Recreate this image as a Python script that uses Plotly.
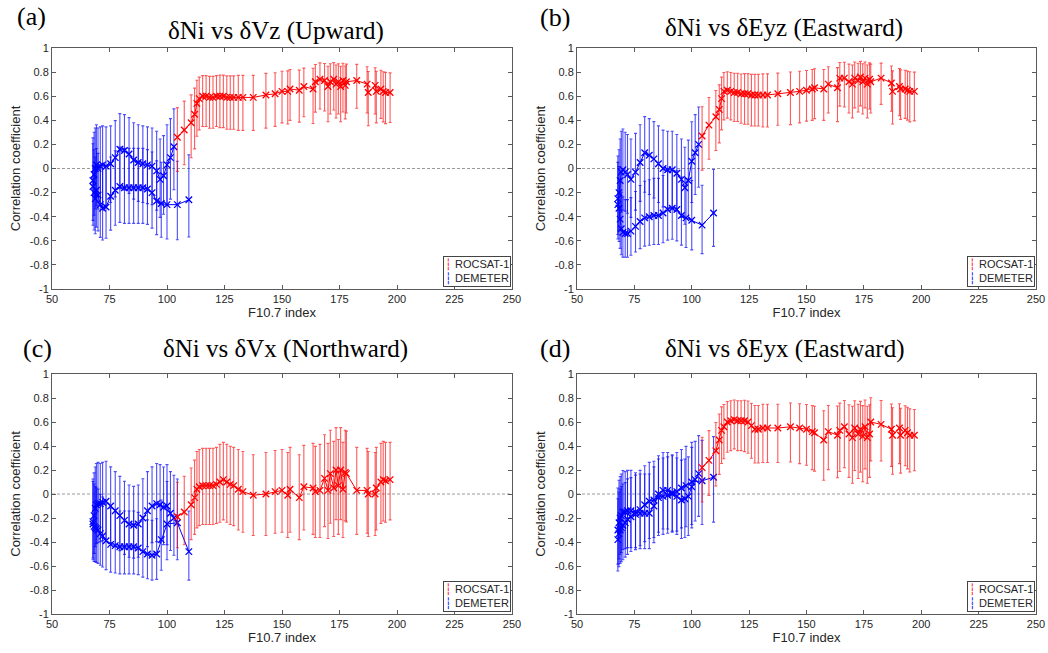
import numpy as np
import plotly.graph_objects as go

# F10.7 bins of the ROCSAT-1 points (same bins in all four panels)
rocsat_f107 = [104.5, 107.5, 110.5, 112, 113, 114, 115.5, 117, 118.5, 120, 121.5, 123, 124.5, 126,
               127.5, 129, 131, 133, 137.5, 143, 147, 150, 152.5, 153.5, 157.5, 159.5, 163.5, 164.5,
               166.5, 168.5, 170, 171, 172.5, 173.5, 174.5, 175.5, 176.5, 177.5, 178, 182.5, 187,
               187.5, 190.5, 191, 193, 194, 195, 197]
# 95% interval half width in Fisher-z space (depends on bin size only)
rocsat_dz = [0.29, 0.30, 0.31, 0.32, 0.33, 0.33, 0.33, 0.33, 0.33, 0.33, 0.33, 0.34, 0.34, 0.34,
             0.34, 0.34, 0.35, 0.35, 0.35, 0.36, 0.36, 0.36, 0.37, 0.37, 0.37, 0.37, 0.40, 0.40,
             0.41, 0.41, 0.42, 0.42, 0.42, 0.42, 0.42, 0.42, 0.42, 0.41, 0.41, 0.38, 0.37, 0.37,
             0.36, 0.36, 0.35, 0.35, 0.35, 0.34]

# DEMETER bins, two passes through the F10.7 range
demeter_f107_a = [67.8, 68.3, 68.8, 69.3, 70, 71, 72, 73.5, 75.5, 77.5, 79.5, 81.5, 83.5, 85.5,
                  87.5, 89.5, 91.5, 93.5, 95.5, 97, 98.5, 100, 101.5, 103]
demeter_f107_b = [67.8, 68.3, 68.8, 69.3, 70, 71, 72, 73.5, 75.5, 77.5, 79.5, 81.5, 83.5, 85.5,
                  87.5, 89.5, 91.5, 93.5, 95.5, 97.5, 100, 104.5, 109.5]
demeter_dz_a = [0.36, 0.36, 0.35, 0.35, 0.35, 0.34, 0.34, 0.34, 0.33, 0.33, 0.33, 0.33, 0.33, 0.33,
                0.33, 0.33, 0.33, 0.33, 0.34, 0.34, 0.34, 0.35, 0.35, 0.36]
demeter_dz_b = [0.36, 0.36, 0.35, 0.35, 0.35, 0.34, 0.34, 0.33, 0.33, 0.33, 0.33, 0.33, 0.33, 0.33,
                0.33, 0.33, 0.33, 0.34, 0.34, 0.35, 0.36, 0.37, 0.38]

# (a) dNi vs dVz
rocsat_vz = [0.26, 0.32, 0.38, 0.45, 0.54, 0.58, 0.60, 0.60, 0.59, 0.59, 0.60, 0.60, 0.60, 0.59,
             0.59, 0.59, 0.59, 0.59, 0.59, 0.61, 0.62, 0.64, 0.64, 0.66, 0.65, 0.68, 0.66, 0.72,
             0.74, 0.73, 0.68, 0.72, 0.74, 0.70, 0.72, 0.68, 0.73, 0.69, 0.72, 0.73, 0.70, 0.63,
             0.69, 0.64, 0.66, 0.64, 0.63, 0.63]
demeter_vz_a = [-0.15, -0.05, 0.0, 0.03, 0.0, 0.02, 0.03, 0.02, 0.04, 0.09, 0.16, 0.15, 0.12, 0.07,
                0.05, 0.04, 0.03, 0.02, -0.02, -0.09, -0.06, 0.03, 0.09, 0.18]
demeter_vz_b = [-0.10, -0.20, -0.25, -0.18, -0.22, -0.30, -0.33, -0.32, -0.23, -0.18, -0.15, -0.16,
                -0.16, -0.16, -0.16, -0.16, -0.17, -0.20, -0.27, -0.29, -0.30, -0.30, -0.26]

# (b) dNi vs dEyz
rocsat_eyz = [0.27, 0.36, 0.43, 0.49, 0.58, 0.64, 0.65, 0.64, 0.63, 0.63, 0.62, 0.62, 0.62, 0.61,
              0.61, 0.61, 0.61, 0.61, 0.62, 0.63, 0.64, 0.65, 0.66, 0.67, 0.66, 0.70, 0.67, 0.75,
              0.75, 0.72, 0.70, 0.75, 0.73, 0.76, 0.72, 0.75, 0.70, 0.74, 0.72, 0.75, 0.71, 0.64,
              0.68, 0.66, 0.66, 0.65, 0.64, 0.64]
demeter_eyz_a = [-0.30, -0.20, -0.10, -0.03, -0.01, -0.03, -0.05, -0.09, -0.03, 0.05, 0.13, 0.11,
                 0.08, 0.04, 0.00, -0.01, -0.01, -0.04, -0.09, -0.16, -0.10, 0.06, 0.13, 0.20]
demeter_eyz_b = [-0.25, -0.33, -0.42, -0.50, -0.53, -0.54, -0.54, -0.52, -0.48, -0.44, -0.41, -0.40,
                 -0.39, -0.39, -0.37, -0.34, -0.33, -0.34, -0.39, -0.41, -0.43, -0.47, -0.37]

# (c) dNi vs dVx
rocsat_vx = [-0.19, -0.15, -0.09, -0.03, 0.04, 0.06, 0.07, 0.07, 0.07, 0.07, 0.08, 0.10, 0.12, 0.10,
             0.08, 0.07, 0.04, 0.02, -0.01, 0.00, 0.02, 0.03, -0.01, 0.04, -0.03, 0.06, 0.05, 0.02,
             0.03, 0.13, 0.03, 0.17, 0.05, 0.20, 0.07, 0.20, 0.04, 0.18, 0.17, 0.03, 0.03, 0.00,
             0.00, 0.05, 0.10, 0.12, 0.11, 0.12]
demeter_vx_a = [-0.23, -0.18, -0.12, -0.09, -0.08, -0.08, -0.07, -0.06, -0.10, -0.14, -0.18, -0.22,
                -0.25, -0.26, -0.25, -0.20, -0.14, -0.10, -0.08, -0.09, -0.11, -0.10, -0.16, -0.20]
demeter_vx_b = [-0.25, -0.27, -0.28, -0.29, -0.30, -0.33, -0.35, -0.39, -0.42, -0.43, -0.44, -0.44,
                -0.44, -0.44, -0.45, -0.48, -0.50, -0.51, -0.50, -0.38, -0.25, -0.24, -0.48]

# (d) dNi vs dEyx
rocsat_eyx = [0.22, 0.28, 0.36, 0.45, 0.53, 0.56, 0.60, 0.61, 0.62, 0.61, 0.61, 0.61, 0.60, 0.57,
              0.54, 0.54, 0.55, 0.55, 0.55, 0.56, 0.55, 0.54, 0.52, 0.51, 0.45, 0.52, 0.49, 0.53,
              0.56, 0.50, 0.47, 0.55, 0.50, 0.54, 0.48, 0.56, 0.47, 0.50, 0.60, 0.58, 0.54, 0.49,
              0.55, 0.49, 0.53, 0.51, 0.49, 0.49]
demeter_eyx_a = [-0.30, -0.24, -0.20, -0.18, -0.15, -0.15, -0.14, -0.14, -0.15, -0.16, -0.16, -0.16,
                 -0.10, 0.00, 0.03, 0.03, 0.01, -0.02, -0.05, -0.04, -0.02, 0.06, 0.12, 0.17]
demeter_eyx_b = [-0.38, -0.33, -0.30, -0.28, -0.26, -0.24, -0.21, -0.19, -0.17, -0.13, -0.09, -0.06,
                 -0.05, -0.03, -0.02, -0.01, 0.00, 0.02, 0.05, 0.07, 0.10, 0.11, 0.14]

panel_titles = ["δNi vs δVz (Upward)", "δNi vs δEyz (Eastward)",
                "δNi vs δVx (Northward)", "δNi vs δEyx (Eastward)"]
panel_tags = ["(a)", "(b)", "(c)", "(d)"]
x_ticks = [50, 75, 100, 125, 150, 175, 200, 225, 250]
y_ticks = [-1, -0.8, -0.6, -0.4, -0.2, 0, 0.2, 0.4, 0.6, 0.8, 1]
y_ticktext = ["-1", "-0.8", "-0.6", "-0.4", "-0.2", "0", "0.2", "0.4", "0.6", "0.8", "1"]

panels = [
    (rocsat_vz, demeter_vz_a, demeter_vz_b),
    (rocsat_eyz, demeter_eyz_a, demeter_eyz_b),
    (rocsat_vx, demeter_vx_a, demeter_vx_b),
    (rocsat_eyx, demeter_eyx_a, demeter_eyx_b),
]

W, H = 1048, 653
x_dom = [[52 / W, 512 / W], [577 / W, 1036 / W]]
y_dom = [[1 - 289 / H, 1 - 48 / H], [1 - 614 / H, 1 - 374 / H]]
title_x = [276, 784, 285, 784]
title_y = [31, 28, 349, 349]
tag_x = [15, 538, 21, 538]
tag_y = [16, 17, 348, 348]

RED = "rgb(255,0,0)"
BLUE = "rgb(0,0,255)"
AXC = "#5a5a5a"
FONT = "Liberation Sans"
SERIF = "Liberation Serif"


def ci(r, dz):
    r = np.asarray(r, dtype=float)
    z = np.arctanh(r)
    dz = np.asarray(dz, dtype=float)
    return np.tanh(z + dz) - r, r - np.tanh(z - dz)


def series(x, r, dz, color, bar_color, xa, ya):
    hi, lo = ci(r, dz)
    return go.Scatter(
        x=x, y=r, mode="lines+markers", xaxis=xa, yaxis=ya, showlegend=False,
        line=dict(color=color, width=1),
        marker=dict(symbol="x-thin", size=6.5, line=dict(color=color, width=1.3)),
        error_y=dict(type="data", symmetric=False, array=hi, arrayminus=lo,
                     color=bar_color, thickness=1.1, width=1.5),
    )


fig = go.Figure()
layout = dict(width=W, height=H, margin=dict(l=0, r=0, t=0, b=0),
              paper_bgcolor="white", plot_bgcolor="white",
              showlegend=False, shapes=[], annotations=[])

for i, (red, blue_a, blue_b) in enumerate(panels):
    row, col = i // 2, i % 2
    n = "" if i == 0 else str(i + 1)
    xa, ya = "x" + n, "y" + n

    fig.add_trace(series(demeter_f107_a, blue_a, demeter_dz_a, BLUE, "rgba(0,0,255,0.7)", xa, ya))
    fig.add_trace(series(demeter_f107_b, blue_b, demeter_dz_b, BLUE, "rgba(0,0,255,0.7)", xa, ya))
    fig.add_trace(series(rocsat_f107, red, rocsat_dz, RED, "rgba(255,0,0,0.65)", xa, ya))

    axis_common = dict(showline=True, linecolor=AXC, linewidth=1, mirror="ticks",
                       ticks="inside", ticklen=4, tickcolor=AXC, showgrid=False,
                       zeroline=False, automargin=False,
                       tickfont=dict(family=FONT, size=11, color="#262626"))
    layout["xaxis" + n] = dict(
        domain=x_dom[col], anchor=ya, range=[50, 250], tickvals=x_ticks,
        title=dict(text="F10.7 index", font=dict(family=FONT, size=13, color="#262626"),
                   standoff=3),
        **axis_common)
    layout["yaxis" + n] = dict(
        domain=y_dom[row], anchor=xa, range=[-1, 1], tickvals=y_ticks, ticktext=y_ticktext,
        title=dict(text="Correlation coefficient",
                   font=dict(family=FONT, size=13, color="#262626"), standoff=6),
        **axis_common)

    # dashed zero reference
    layout["shapes"].append(dict(type="line", xref=xa + " domain", yref=ya, x0=0, x1=1,
                                 y0=0, y1=0, layer="below",
                                 line=dict(color="#9a9a9a", width=1, dash="3px,2px")))

    layout["annotations"].append(dict(
        text=panel_titles[i], x=title_x[i] / W, y=1 - title_y[i] / H, xref="paper",
        yref="paper", xanchor="center", yanchor="middle", showarrow=False,
        font=dict(family=SERIF, size=25, color="black")))
    layout["annotations"].append(dict(
        text=panel_tags[i], x=tag_x[i] / W, y=1 - tag_y[i] / H, xref="paper",
        yref="paper", xanchor="left", yanchor="middle", showarrow=False,
        font=dict(family=SERIF, size=26, color="black")))
    # legend box
    layout["annotations"].append(dict(
        text='<span style="color:#ff0000">┆</span> ROCSAT-1<br>'
             '<span style="color:#0000ff">┆</span> DEMETER',
        x=x_dom[col][1] - 1 / W, y=y_dom[row][0] + 2 / H, xref="paper", yref="paper",
        xanchor="right", yanchor="bottom", align="left", showarrow=False,
        bordercolor="#444444", borderwidth=1, borderpad=1, bgcolor="white",
        font=dict(family=FONT, size=11, color="#262626")))

fig.update_layout(**layout)
# drop the browser's default page margin so the figure sits at the window origin
fig.write_html("out.html", config={"displayModeBar": False},
               post_script="document.body.style.margin='0px';")
